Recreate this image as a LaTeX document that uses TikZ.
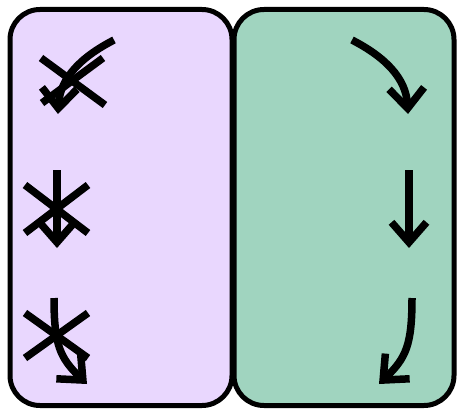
\documentclass[tikz,border=0pt]{standalone}
\usetikzlibrary{arrows.meta}
\definecolor{purp}{RGB}{233,215,254}
\definecolor{mint}{RGB}{160,212,191}
\begin{document}
\begin{tikzpicture}[x=1pt,y=-1pt,
  box/.style={draw=black,line width=5pt,rounded corners=30pt,inner sep=0pt,outer sep=0pt},
  stroke/.style={line width=7.5pt,line cap=butt},
  arr/.style={stroke,-{Straight Barb[length=20pt,width=35pt,line width=7.5pt]}}]
\useasboundingbox (0,0) rectangle (457,412);
% boxes
\node[box,fill=purp,minimum width=222pt,minimum height=396pt] (L) at (121,207.5) {};
\node[box,fill=mint,minimum width=220pt,minimum height=396pt] (R) at (344,207.5) {};
% crosses
\coordinate (x1a) at (41,58);  \coordinate (x1b) at (105,105);
\coordinate (x1c) at (103,58); \coordinate (x1d) at (42,103);
\coordinate (x2a) at (25,185); \coordinate (x2b) at (88,233);
\coordinate (x2c) at (88,185); \coordinate (x2d) at (25,233);
\coordinate (x3a) at (25,313); \coordinate (x3b) at (88,358);
\coordinate (x3c) at (88,313); \coordinate (x3d) at (25,358);
\draw[stroke] (x1a) -- (x1b); \draw[stroke] (x1c) -- (x1d);
\draw[stroke] (x2a) -- (x2b); \draw[stroke] (x2c) -- (x2d);
\draw[stroke] (x3a) -- (x3b); \draw[stroke] (x3c) -- (x3d);
% right arrows
\coordinate (r1s) at (352,40);  \coordinate (r1e) at (408,114);
\coordinate (r2s) at (409,170); \coordinate (r2e) at (409,248);
\coordinate (r3s) at (412,298); \coordinate (r3e) at (379,384);
\draw[arr] (r1s) .. controls (385,57) and (406,78) .. (r1e);
\draw[arr] (r2s) -- (r2e);
\draw[arr] (r3s) .. controls (412,345) and (406,358) .. (r3e);
% left arrows (mirrored)
\coordinate (l1s) at (114,40);  \coordinate (l1e) at (58,114);
\coordinate (l2s) at (57,170);  \coordinate (l2e) at (57,248);
\coordinate (l3s) at (54,298);  \coordinate (l3e) at (87,384);
\draw[arr] (l1s) .. controls (81,57) and (60,78) .. (l1e);
\draw[arr] (l2s) -- (l2e);
\draw[arr] (l3s) .. controls (54,345) and (60,358) .. (l3e);
\end{tikzpicture}
\end{document}
